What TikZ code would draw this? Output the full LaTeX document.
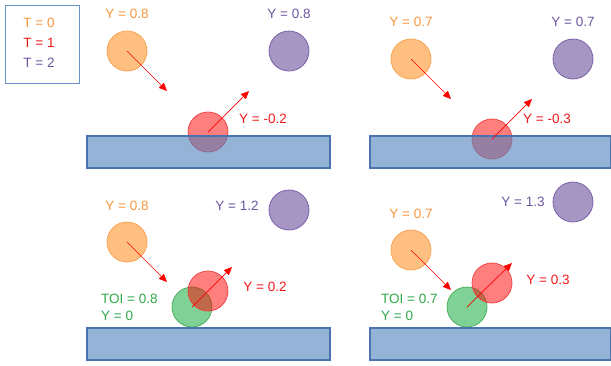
\documentclass[tikz,border=0pt]{standalone}
\usepackage{fontspec}
\setmainfont{Liberation Sans}
\usetikzlibrary{arrows.meta}
\definecolor{orgfill}{HTML}{FFBF80}
\definecolor{orgline}{HTML}{F9A455}
\definecolor{orgtext}{HTML}{F7963C}
\definecolor{purfill}{HTML}{A696C4}
\definecolor{purline}{HTML}{7A62A8}
\definecolor{purtext}{HTML}{6B55A0}
\definecolor{redline}{HTML}{F03C3C}
\definecolor{redtext}{HTML}{F01818}
\definecolor{grnbase}{HTML}{00A32D}
\definecolor{grnline}{HTML}{4CB060}
\definecolor{grntext}{HTML}{2EA84A}
\definecolor{gndfill}{HTML}{4F81BD}
\definecolor{gndline}{HTML}{4A74B0}
\definecolor{legline}{HTML}{6A90C8}
\tikzset{
  lbl/.style={inner sep=0pt, font=\fontsize{13.5}{17}\selectfont},
  ball/.style={circle, minimum size=40pt, inner sep=0pt, line width=0.8pt},
  balls0/.style={ball, fill=orgfill, draw=orgline},
  balls2/.style={ball, fill=purfill, draw=purline},
  balls1/.style={ball, fill=red, fill opacity=0.5, draw=redline, draw opacity=0.9},
  ballstoi/.style={ball, fill=grnbase, fill opacity=0.5, draw=grnline},
  ground/.style={draw=gndline, line width=1.2pt, fill=gndfill, fill opacity=0.6},
  vel/.style={red, line width=0.7pt, -{Triangle[length=8pt,width=7pt]}},
}
\begin{document}
\begin{tikzpicture}[x=1pt,y=-1pt]
\useasboundingbox (0,0) rectangle (611,365);
% legend
\node[draw=legline, line width=0.9pt, minimum width=74pt, minimum height=78pt, inner sep=0pt] (legend) at (42,44) {};
\node[lbl, text=orgtext] (t0) at (39,23) {T = 0};
\node[lbl, text=redtext] (t1) at (39,43) {T = 1};
\node[lbl, text=purtext] (t2) at (39,63) {T = 2};

% ===== top left =====
\node[balls0] (a0) at (127,51) {};
\node[balls2] (a2) at (289,51) {};
\node[balls1] (a1) at (208,132) {};
\node[ground, minimum width=243pt, minimum height=32pt, inner sep=0pt] (ga) at (208.5,152) {};
\coordinate (ae0) at (167,91);
\coordinate (ae1) at (249,91);
\draw[vel] (a0.center) -- (ae0);
\draw[vel] (a1.center) -- (ae1);
\node[lbl, text=orgtext] (ay0) at (127,14) {Y = 0.8};
\node[lbl, text=purtext] (ay2) at (289,14) {Y = 0.8};
\node[lbl, text=redtext] (ay1) at (263,119) {Y = -0.2};

% ===== top right =====
\node[balls0] (b0) at (411,59) {};
\node[balls2] (b2) at (573,59) {};
\node[balls1] (b1) at (492,139) {};
\node[ground, minimum width=241pt, minimum height=32pt, inner sep=0pt] (gb) at (490.5,152) {};
\coordinate (be0) at (451,99);
\coordinate (be1) at (532,99);
\draw[vel] (b0.center) -- (be0);
\draw[vel] (b1.center) -- (be1);
\node[lbl, text=orgtext] (by0) at (411,22) {Y = 0.7};
\node[lbl, text=purtext] (by2) at (573,22) {Y = 0.7};
\node[lbl, text=redtext] (by1) at (547,119) {Y = -0.3};

% ===== bottom left =====
\node[balls0] (c0) at (127,242) {};
\node[balls2] (c2) at (289,210) {};
\node[ballstoi] (ct) at (192,307) {};
\node[balls1] (c1) at (208,291) {};
\node[ground, minimum width=243pt, minimum height=32pt, inner sep=0pt] (gc) at (208.5,344) {};
\coordinate (ce0) at (167,282);
\coordinate (ce1) at (232,267);
\draw[vel] (c0.center) -- (ce0);
\draw[vel] (ct.center) -- (ce1);
\node[lbl, text=orgtext] (cy0) at (127,206) {Y = 0.8};
\node[lbl, text=purtext] (cy2) at (237,206) {Y = 1.2};
\node[lbl, text=redtext] (cy1) at (265,287) {Y = 0.2};
\node[lbl, text=grntext, align=left, anchor=west] (ctoi) at (101,307.5) {TOI = 0.8\\Y = 0};

% ===== bottom right =====
\node[balls0] (d0) at (411,250) {};
\node[balls2] (d2) at (573,202) {};
\node[ballstoi] (dt) at (467,307) {};
\node[balls1] (d1) at (492,283) {};
\node[ground, minimum width=241pt, minimum height=32pt, inner sep=0pt] (gd) at (490.5,344) {};
\coordinate (de0) at (451,290);
\coordinate (de1) at (512,263);
\draw[vel] (d0.center) -- (de0);
\draw[vel] (dt.center) -- (de1);
\node[lbl, text=orgtext] (dy0) at (411,214) {Y = 0.7};
\node[lbl, text=purtext] (dy2) at (523,202) {Y = 1.3};
\node[lbl, text=redtext] (dy1) at (548,280) {Y = 0.3};
\node[lbl, text=grntext, align=left, anchor=west] (dtoi) at (381,307.5) {TOI = 0.7\\Y = 0};
\end{tikzpicture}
\end{document}
